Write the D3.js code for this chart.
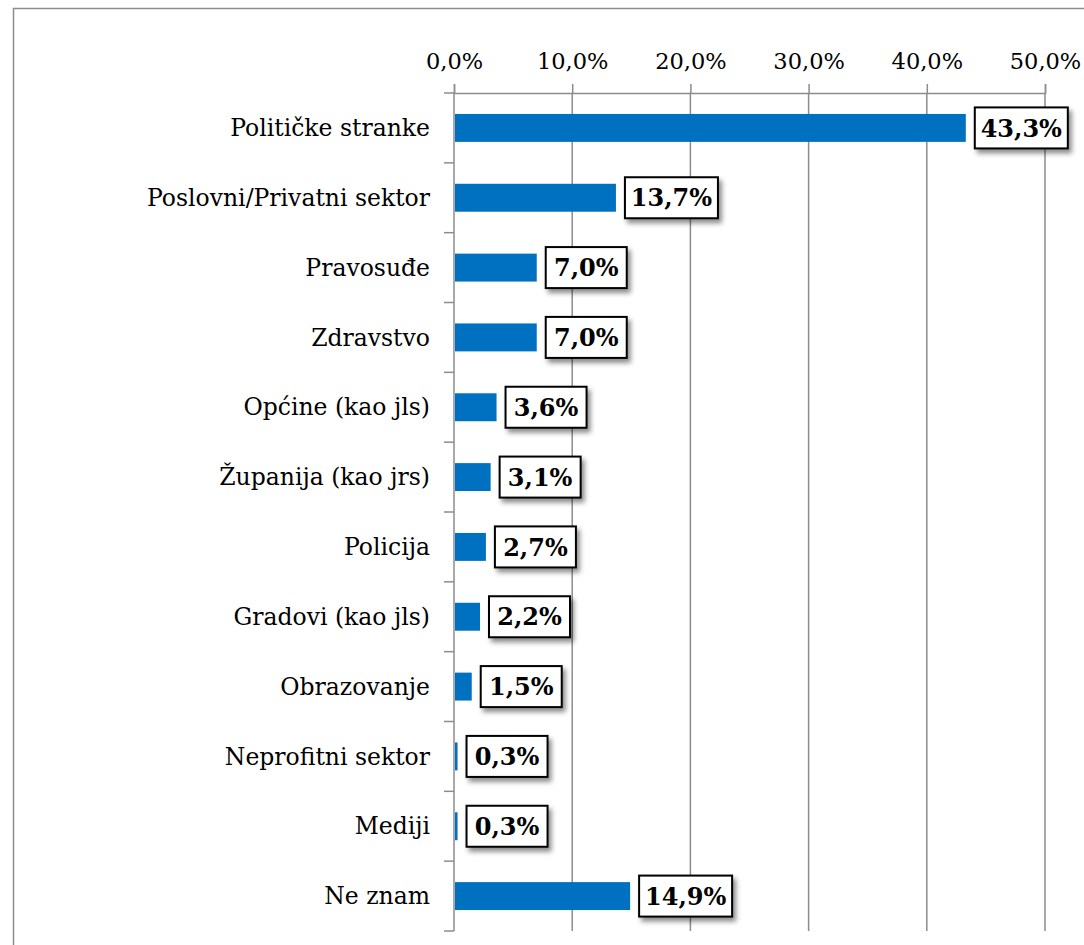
<!DOCTYPE html>
<html lang="hr">
<head>
<meta charset="utf-8" />
<title>Bar Chart</title>
<script src="https://cdn.jsdelivr.net/npm/d3@7"></script>
<style>
  body { margin: 0; background: #fff; }
</style>
</head>
<body>
<svg id="chart" width="1084" height="945"></svg>
<script>
// data
const categories = ["Političke stranke", "Poslovni/Privatni sektor", "Pravosuđe", "Zdravstvo",
  "Općine (kao jls)", "Županija (kao jrs)", "Policija", "Gradovi (kao jls)", "Obrazovanje",
  "Neprofitni sektor", "Mediji", "Ne znam"];
const values = [43.3, 13.7, 7.0, 7.0, 3.6, 3.1, 2.7, 2.2, 1.5, 0.3, 0.3, 14.9];
const tickValues = [0, 10, 20, 30, 40, 50];

const fmt = v => v.toFixed(1).replace(".", ",") + "%";
const font = "'DejaVu Serif', 'Liberation Serif', serif";

const svg = d3.select("#chart").attr("font-family", font);

// outer frame
svg.append("rect")
  .attr("x", 13.5).attr("y", 8.5)
  .attr("width", 1084).attr("height", 960)
  .attr("fill", "none").attr("stroke", "#8c8c8c").attr("stroke-width", 1.5);

const margin = { top: 93, left: 454 };
const innerWidth = 1045 - margin.left;
const innerHeight = 931 - margin.top;

const g = svg.append("g").attr("transform", `translate(${margin.left},${margin.top})`);

const x = d3.scaleLinear().domain([0, 50]).range([0, innerWidth]);
const y = d3.scaleBand().domain(categories).range([0, innerHeight]).paddingInner(0.6).paddingOuter(0.3);

// gridlines
g.selectAll(".grid")
  .data(tickValues.slice(1))
  .enter().append("line")
  .attr("x1", d => x(d)).attr("x2", d => x(d))
  .attr("y1", 0).attr("y2", innerHeight)
  .attr("stroke", "#8c8c8c").attr("stroke-width", 1.5);

// top axis
const xAxis = g.append("g")
  .call(d3.axisTop(x).tickValues(tickValues).tickFormat(fmt).tickSize(9).tickPadding(15));
xAxis.select(".domain").attr("stroke", "#8c8c8c").attr("stroke-width", 1.5);
xAxis.selectAll(".tick line").attr("stroke", "#8c8c8c").attr("stroke-width", 1.5);
xAxis.selectAll("text")
  .attr("font-family", font).attr("font-size", "22.5px").attr("fill", "#000");

// left axis with ticks between categories
const yAxis = g.append("g");
yAxis.append("line")
  .attr("x1", 0).attr("x2", 0).attr("y1", 0).attr("y2", innerHeight)
  .attr("stroke", "#8c8c8c").attr("stroke-width", 1.5);
yAxis.selectAll(".ytick")
  .data(d3.range(categories.length + 1))
  .enter().append("line")
  .attr("x1", -10).attr("x2", 0)
  .attr("y1", i => i * innerHeight / categories.length)
  .attr("y2", i => i * innerHeight / categories.length)
  .attr("stroke", "#8c8c8c").attr("stroke-width", 1.5);
yAxis.selectAll(".ylabel")
  .data(categories)
  .enter().append("text")
  .attr("x", -24)
  .attr("y", d => y(d) + y.bandwidth() / 2)
  .attr("dy", "0.35em")
  .attr("text-anchor", "end")
  .attr("font-size", "23.5px")
  .text(d => d);

// shadow filter for labels
const defs = svg.append("defs");
const filter = defs.append("filter").attr("id", "shadow")
  .attr("x", "-20%").attr("y", "-20%").attr("width", "150%").attr("height", "160%");
filter.append("feDropShadow")
  .attr("dx", 3).attr("dy", 4).attr("stdDeviation", 2.5)
  .attr("flood-color", "#000").attr("flood-opacity", 0.45);

// bars
g.selectAll(".bar")
  .data(values)
  .enter().append("rect")
  .attr("x", 1)
  .attr("y", (d, i) => y(categories[i]))
  .attr("width", d => Math.max(x(d) - 1, 2))
  .attr("height", y.bandwidth())
  .attr("fill", "#0070c0");

// value labels
const boxW = d => d >= 10 ? 93 : 81;
const labels = g.selectAll(".lbl")
  .data(values)
  .enter().append("g")
  .attr("transform", (d, i) => `translate(${x(d) + 9},${y(categories[i]) + y.bandwidth() / 2})`);

labels.append("rect")
  .attr("x", 0).attr("y", -20.5)
  .attr("width", boxW)
  .attr("height", 41)
  .attr("fill", "#fff").attr("stroke", "#000").attr("stroke-width", 2)
  .attr("filter", "url(#shadow)");

labels.append("text")
  .attr("x", d => boxW(d) / 2)
  .attr("y", 0)
  .attr("dy", "0.36em")
  .attr("text-anchor", "middle")
  .attr("font-size", "24px")
  .attr("font-weight", "bold")
  .text(fmt);
</script>
</body>
</html>
